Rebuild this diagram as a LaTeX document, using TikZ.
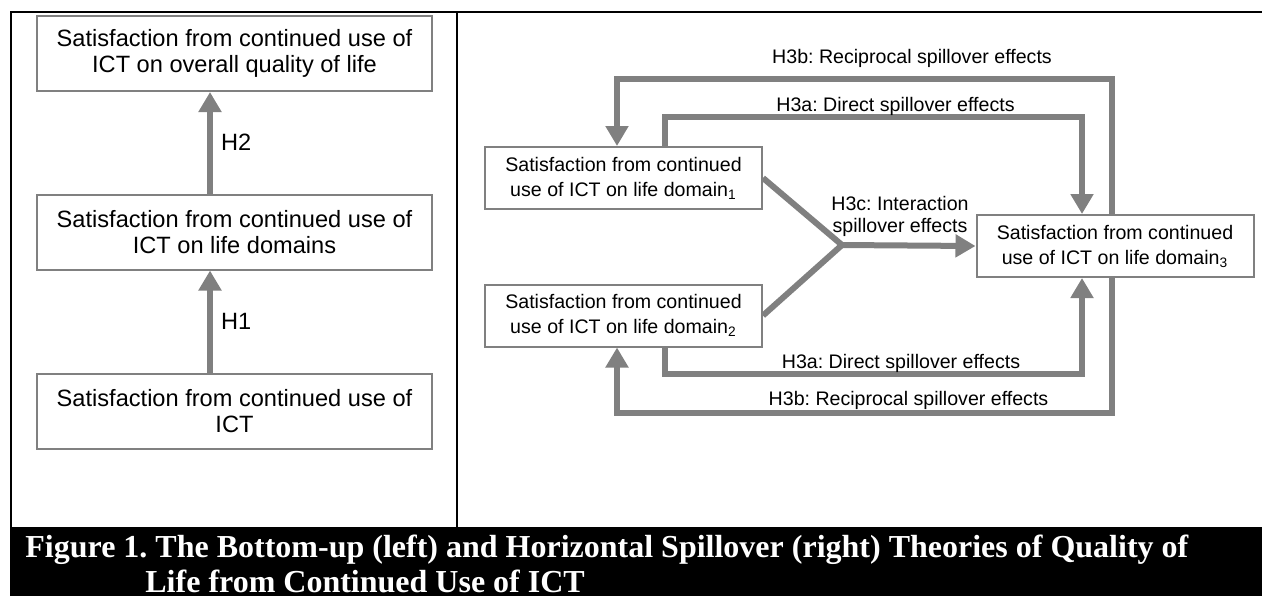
\documentclass[tikz,border=0pt]{standalone}
\usepackage{fontspec}
\setmainfont{Liberation Sans}
\newfontfamily\capfont{Liberation Serif}
\usetikzlibrary{arrows.meta}
\definecolor{linegray}{HTML}{808080}
\frenchspacing

\begin{document}
\begin{tikzpicture}[x=0.5pt,y=-0.5pt,
    bigbox/.style={draw=linegray,line width=1pt,fill=white,minimum width=197.5pt,minimum height=37.5pt,
        align=center,inner sep=0pt,font=\fontsize{11.8}{13}\selectfont},
    smallbox/.style={draw=linegray,line width=1pt,fill=white,minimum width=138.5pt,minimum height=31pt,
        align=center,inner sep=0pt,font=\fontsize{9.8}{12.5}\selectfont},
    flow/.style={draw=linegray,line width=3pt,line join=miter},
    flowarrow/.style={flow,-{Triangle[width=11pt,length=10pt]}},
    lbl/.style={font=\fontsize{9.8}{11}\selectfont,inner sep=0pt}]
    \useasboundingbox (0,0) rectangle (1262,596);
    % frame and caption band
    \fill[black] (10,527) rectangle (1262,596);
    \draw[line width=1pt] (10,12) -- (1262,12);
    \draw[line width=1pt] (11,12) -- (11,527);
    \draw[line width=1pt] (456.5,12) -- (456.5,527);
    % bottom-up (left)
    \node[bigbox] (ovr) at (234.5,53.5) {Satisfaction from continued use of\\ICT on overall quality of life};
    \node[bigbox] (dom) at (234.5,232) {Satisfaction from continued use of\\ICT on life domains};
    \node[bigbox] (ict) at (234.5,411) {Satisfaction from continued use of\\ICT};
    \draw[flowarrow] ([xshift=-12.25pt]ict.north) -- ([xshift=-12.25pt]dom.south)
        node[midway,right=4pt,font=\fontsize{11.8}{13}\selectfont,inner sep=0pt] (h1) {H1};
    \draw[flowarrow] ([xshift=-12.25pt]dom.north) -- ([xshift=-12.25pt]ovr.south)
        node[midway,right=4pt,font=\fontsize{11.8}{13}\selectfont,inner sep=0pt] (h2) {H2};
    % horizontal spillover (right)
    \node[smallbox] (d1) at (623.5,178) {Satisfaction from continued\\use of ICT on life domain\textsubscript{1}};
    \node[smallbox] (d2) at (623.5,315.5) {Satisfaction from continued\\use of ICT on life domain\textsubscript{2}};
    \node[smallbox] (d3) at (1115,246) {Satisfaction from continued\\use of ICT on life domain\textsubscript{3}};
    \coordinate (jn) at (842,245);
    \coordinate (xl) at (617,0); \coordinate (xm) at (665,0);
    \coordinate (xa) at (1082,0); \coordinate (xb) at (1112,0);
    \coordinate (yb1) at (0,79); \coordinate (ya1) at (0,117);
    \coordinate (ya2) at (0,374); \coordinate (yb2) at (0,413);
    \draw[flowarrow] (xb |- d3.north) -- (xb |- yb1) -- (xl |- yb1) -- (xl |- d1.north);
    \draw[flowarrow] (xm |- d1.north) -- (xm |- ya1) -- (xa |- ya1) -- (xa |- d3.north);
    \draw[flowarrow] (xm |- d2.south) -- (xm |- ya2) -- (xa |- ya2) -- (xa |- d3.south);
    \draw[flowarrow] (xb |- d3.south) -- (xb |- yb2) -- (xl |- yb2) -- (xl |- d2.south);
    \draw[flow] (d1.east) -- (jn) -- (d2.east);
    \draw[flowarrow] (jn) -- (d3.west);
    \node[lbl,anchor=base] (l3b1) at (912,63) {H3b: Reciprocal spillover effects};
    \node[lbl,anchor=base] (l3a1) at (895.5,111) {H3a: Direct spillover effects};
    \node[lbl,anchor=base] (l3a2) at (901,368) {H3a: Direct spillover effects};
    \node[lbl,anchor=base] (l3b2) at (908.5,405) {H3b: Reciprocal spillover effects};
    \node[lbl,anchor=base] (l3c1) at (900,210) {H3c: Interaction};
    \node[lbl,anchor=base] (l3c2) at (900,232) {spillover effects};
    % caption
    \node[anchor=base west,text=white,inner sep=0pt,font=\capfont\bfseries\fontsize{16}{17.5}\selectfont] (cap1)
        at (25,557) {Figure 1. The Bottom-up (left) and Horizontal Spillover (right) Theories of Quality of};
    \node[anchor=base west,text=white,inner sep=0pt,font=\capfont\bfseries\fontsize{16}{17.5}\selectfont] (cap2)
        at (145,592) {Life from Continued Use of ICT};
\end{tikzpicture}
\end{document}
